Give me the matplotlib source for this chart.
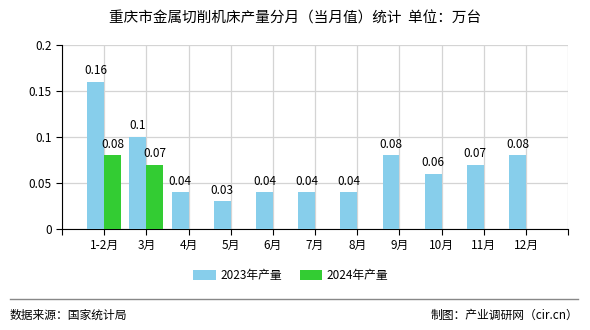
import numpy as np
import matplotlib
matplotlib.use('Agg')
import matplotlib.pyplot as plt

plt.rcParams['font.family'] = ['Noto Sans CJK SC', 'DejaVu Sans']

months = ['1-2月', '3月', '4月', '5月', '6月', '7月', '8月', '9月', '10月', '11月', '12月']
values_2023 = [0.16, 0.1, 0.04, 0.03, 0.04, 0.04, 0.04, 0.08, 0.06, 0.07, 0.08]
values_2024 = [0.08, 0.07]

fig = plt.figure(figsize=(5.9, 3.3), dpi=100)
ax = fig.add_axes([0.105, 0.306, 0.858, 0.558])

x = np.arange(len(months))
w = 0.4
b1 = ax.bar(x - w / 2, values_2023, w, color='#87CEEB', label='2023年产量', zorder=3)
x24 = x[:len(values_2024)]
b2 = ax.bar(x24 + w / 2, values_2024, w, color='#33CC33', label='2024年产量', zorder=3)

for xi, v in zip(x, values_2023):
    ax.text(xi - w / 2, v + 0.005, f'{v:g}', ha='center', va='bottom', fontsize=8.5)
for xi, v in zip(x24, values_2024):
    ax.text(xi + w / 2, v + 0.005, f'{v:g}', ha='center', va='bottom', fontsize=8.5)

# ticks also at both ends so the grid closes the plot box
ax.set_xlim(-1, len(months))
ax.set_xticks(np.arange(-1, len(months) + 1))
ax.set_xticklabels([''] + months + [''])
ax.set_ylim(0, 0.2)
ax.set_yticks([0, 0.05, 0.1, 0.15, 0.2])
ax.set_yticklabels(['0', '0.05', '0.1', '0.15', '0.2'])
ax.tick_params(labelsize=8.5, length=4, color='black')
ax.grid(True, color='#d4d4d4', linewidth=0.9, zorder=0)
for s in ['top', 'right']:
    ax.spines[s].set_visible(False)

fig.text(0.5, 0.945, '重庆市金属切削机床产量分月（当月值）统计  单位：万台',
         ha='center', va='center', fontsize=10.5)

fig.legend(handles=[b1, b2], loc='center', bbox_to_anchor=(0.493, 0.165), ncol=2,
           frameon=False, fontsize=8.5, handlelength=1.9, handleheight=0.9,
           handletextpad=0.4, columnspacing=1.5)

fig.add_artist(plt.Line2D([0.017, 0.98], [0.093, 0.093], color='#888888', linewidth=1))
fig.text(0.017, 0.045, '数据来源：国家统计局', ha='left', va='center', fontsize=8.5)
fig.text(0.98, 0.045, '制图：产业调研网（cir.cn）', ha='right', va='center', fontsize=8.5)

plt.savefig('out.png', dpi=100)
